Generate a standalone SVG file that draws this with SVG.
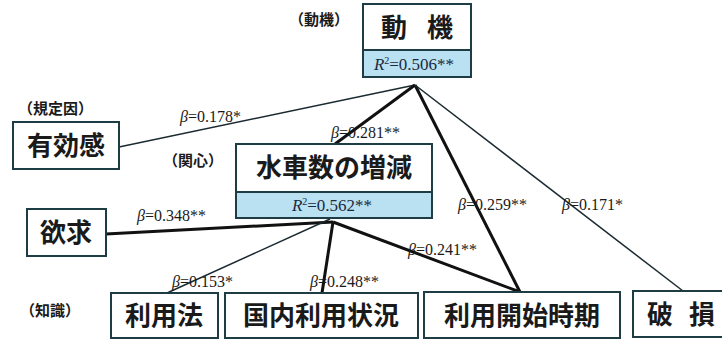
<svg xmlns="http://www.w3.org/2000/svg" width="722" height="340" viewBox="0 0 722 340">
<style>
.box{fill:#fff;stroke:#1e3c44;stroke-width:2}
.rbox{fill:#b9e1f1;stroke:#1e3c44;stroke-width:2}
.jp{font-family:"Noto Sans CJK JP","Noto Sans CJK SC",sans-serif;font-weight:bold;fill:#1a1a1a}
.lbl{font-size:26px;text-anchor:middle}
.cat{font-size:15px}
.num{font-family:"Liberation Serif",serif;font-size:16px;fill:#1a1a1a}
.rnum{font-family:"Liberation Serif",serif;font-size:17px;fill:#1a2a40;text-anchor:middle}
.thin{stroke:#1a2a30;stroke-width:1.5;fill:none}
.thick{stroke:#111;stroke-width:3;fill:none}
</style>
<rect width="722" height="340" fill="#fff"/>
<g id="connectors">
<line class="thin" x1="119" y1="147" x2="415" y2="85"/>
<line class="thick" x1="415" y1="85" x2="335" y2="144"/>
<line class="thick" x1="415" y1="85" x2="520" y2="292"/>
<line class="thin" x1="415" y1="85" x2="683" y2="291"/>
<line class="thick" x1="106" y1="234" x2="333" y2="222"/>
<line class="thin" x1="330" y1="219" x2="167" y2="293"/>
<line class="thick" x1="333" y1="222" x2="322" y2="293"/>
<line class="thick" x1="333" y1="222" x2="520" y2="292"/>
</g>
<g id="labels">
<text class="num" x="180" y="122"><tspan font-style="italic">β</tspan>=0.178*</text>
<text class="num" x="331" y="138"><tspan font-style="italic">β</tspan>=0.281**</text>
<text class="num" x="137" y="221"><tspan font-style="italic">β</tspan>=0.348**</text>
<text class="num" x="458" y="210"><tspan font-style="italic">β</tspan>=0.259**</text>
<text class="num" x="562" y="210"><tspan font-style="italic">β</tspan>=0.171*</text>
<text class="num" x="408" y="255"><tspan font-style="italic">β</tspan>=0.241**</text>
<text class="num" x="172" y="287"><tspan font-style="italic">β</tspan>=0.153*</text>
<text class="num" x="310" y="287"><tspan font-style="italic">β</tspan>=0.248**</text>
</g>
<g id="cat-labels">
<text class="jp cat" x="289" y="25">（動機）</text>
<text class="jp cat" x="18" y="114">（規定因）</text>
<text class="jp cat" x="163" y="166">（関心）</text>
<text class="jp cat" x="20" y="316">（知識）</text>
</g>
<g id="node-motive">
<rect class="box" x="363" y="4" width="108" height="46"/>
<rect class="rbox" x="363" y="50" width="108" height="27"/>
<text class="jp lbl" x="417" y="37" word-spacing="14">動 機</text>
<text class="rnum" x="414" y="70"><tspan font-style="italic">R</tspan><tspan font-size="10" dy="-6">2</tspan><tspan dy="6">=0.506**</tspan></text>
</g>
<g id="node-efficacy">
<rect class="box" x="13" y="122" width="106" height="47"/>
<text class="jp lbl" x="66" y="155">有効感</text>
</g>
<g id="node-wheels">
<rect class="box" x="236" y="144" width="196" height="48"/>
<rect class="rbox" x="236" y="192" width="196" height="26"/>
<text class="jp lbl" x="334" y="177">水車数の増減</text>
<text class="rnum" x="332" y="211"><tspan font-style="italic">R</tspan><tspan font-size="10" dy="-6">2</tspan><tspan dy="6">=0.562**</tspan></text>
</g>
<g id="node-desire">
<rect class="box" x="27" y="209" width="79" height="47"/>
<text class="jp lbl" x="66" y="242">欲求</text>
</g>
<g id="node-usage">
<rect class="box" x="111" y="293" width="107" height="45"/>
<text class="jp lbl" x="164" y="325">利用法</text>
</g>
<g id="node-domestic">
<rect class="box" x="225" y="293" width="193" height="45"/>
<text class="jp lbl" x="321" y="325">国内利用状況</text>
</g>
<g id="node-start">
<rect class="box" x="424" y="292" width="196" height="46"/>
<text class="jp lbl" x="522" y="325">利用開始時期</text>
</g>
<g id="node-damage">
<rect class="box" x="633" y="291" width="92" height="46"/>
<text class="jp lbl" x="681" y="324" word-spacing="10">破 損</text>
</g>
</svg>
